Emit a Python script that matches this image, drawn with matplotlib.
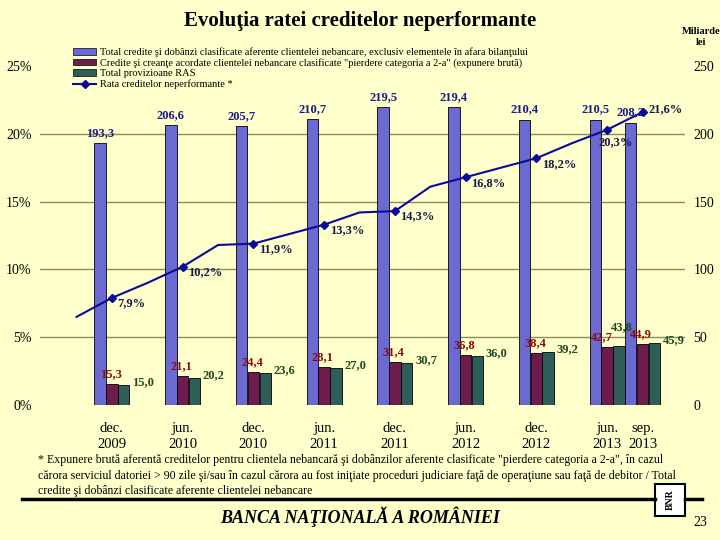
import matplotlib.pyplot as plt
from matplotlib.patches import Patch, Rectangle
from matplotlib.lines import Line2D

plt.rcParams['font.family'] = ['Liberation Serif', 'DejaVu Serif']

# categories: months counted from dec. 2009
cat_labels = ['dec.\n2009', 'jun.\n2010', 'dec.\n2010', 'jun.\n2011', 'dec.\n2011',
              'jun.\n2012', 'dec.\n2012', 'jun.\n2013', 'sep.\n2013']
cat_months = [0, 6, 12, 18, 24, 30, 36, 42, 45]

# bars (miliarde lei)
total_credite = [193.3, 206.6, 205.7, 210.7, 219.5, 219.4, 210.4, 210.5, 208.2]
pierdere = [15.3, 21.1, 24.4, 28.1, 31.4, 36.8, 38.4, 42.7, 44.9]
provizioane = [15.0, 20.2, 23.6, 27.0, 30.7, 36.0, 39.2, 43.8, 45.9]

# line (%), quarterly points
rate_months = [-3, 0, 3, 6, 9, 12, 15, 18, 21, 24, 27, 30, 33, 36, 39, 42, 45]
rate_values = [6.5, 7.9, 9.0, 10.2, 11.8, 11.9, 12.6, 13.3, 14.2, 14.3, 16.1, 16.8,
               17.5, 18.2, 19.3, 20.3, 21.6]

legend_labels = [
    'Total credite şi dobânzi clasificate aferente clientelei nebancare, exclusiv elementele în afara bilanţului',
    'Credite şi creanţe acordate clientelei nebancare clasificate "pierdere categoria a 2-a" (expunere brută)',
    'Total provizioane RAS',
    'Rata creditelor neperformante *',
]

footnote_lines = [
    '* Expunere brută aferentă creditelor pentru clientela nebancară şi dobânzilor aferente clasificate '
    '"pierdere categoria a 2-a", în cazul',
    'cărora serviciul datoriei > 90 zile şi/sau în cazul cărora au fost iniţiate proceduri judiciare '
    'faţă de operaţiune sau faţă de debitor / Total',
    'credite şi dobânzi clasificate aferente clientelei nebancare',
]

bg = '#FFFFCC'
c_blue = '#6A6AD2'
c_mag = '#6E1C50'
c_teal = '#2E5E58'
c_line = '#0A0A9A'

fig = plt.figure(figsize=(7.2, 5.4), dpi=100, facecolor=bg)
ax = fig.add_axes([40 / 720, 1 - 405 / 540, 645 / 720, 339 / 540])
ax.set_facecolor(bg)
ax2 = ax.twinx()
ax2.patch.set_visible(False)

# bars on ax (right scale)
w = 0.97
for y in [50, 100, 150, 200]:
    ax.axhline(y, color='#8C8C5A', lw=1, zorder=0)
ax.bar([m - 1 for m in cat_months], total_credite, w, color=c_blue, edgecolor='black', lw=0.6, zorder=2)
ax.bar(cat_months, pierdere, w, color=c_mag, edgecolor='black', lw=0.6, zorder=2)
ax.bar([m + 1 for m in cat_months], provizioane, w, color=c_teal, edgecolor='black', lw=0.6, zorder=2)

fmt = lambda v: f'{v:.1f}'.replace('.', ',')
lbl = dict(fontsize=9, fontweight='bold')
for i, m in enumerate(cat_months):
    jun13 = cat_labels[i] == 'jun.\n2013'
    ax.annotate(fmt(total_credite[i]), (m - 1, total_credite[i]), xytext=(0, 3),
                textcoords='offset points', ha='center', va='bottom', color='#1A1A8C', **lbl)
    ax.annotate(fmt(pierdere[i]), (m, pierdere[i]), xytext=(-4 if jun13 else -1, 3),
                textcoords='offset points', ha='center', va='bottom', color='#8B0A0A', **lbl)
    if jun13:
        ax.annotate(fmt(provizioane[i]), (m + 1, provizioane[i]), xytext=(2, 9),
                    textcoords='offset points', ha='center', va='bottom', color='#1F4A1F', **lbl)
    else:
        ax.annotate(fmt(provizioane[i]), (m + 1 + w / 2, provizioane[i]), xytext=(2, 2),
                    textcoords='offset points', ha='left', va='center', color='#1F4A1F', **lbl)

ax.set_ylim(0, 250)
ax.set_xlim(-6.1, 48.6)
ax.yaxis.tick_right()
ax.set_yticks([0, 50, 100, 150, 200, 250])
ax.tick_params(axis='y', length=0, labelsize=10, pad=6)
ax.set_xticks(cat_months, cat_labels)
ax.tick_params(axis='x', length=0, labelsize=10.5, pad=12)
for t in ax.get_xticklabels():
    t.set_linespacing(1.3)
ax.set_xticks([m for m, l in zip(cat_months, cat_labels) if l.startswith('jun.')], minor=True)
ax.tick_params(axis='x', which='minor', length=4, color='#888888')

# line on ax2 (left scale)
marked = [i for i, m in enumerate(rate_months) if m in cat_months]
ax2.plot(rate_months, rate_values, color=c_line, lw=1.5, marker='D', ms=4.5,
         markevery=marked, zorder=3)
for i in marked:
    m, v = rate_months[i], rate_values[i]
    off = (4, -4)
    if m == 42:
        off = (-6, -9)
    elif m == 45:
        off = (4, 2)
    ax2.annotate(fmt(v) + '%', (m, v), xytext=off, textcoords='offset points',
                 ha='left', va='center', color='#1A1A4A', **lbl)
ax2.set_ylim(0, 25)
ax2.yaxis.tick_left()
ax2.set_yticks([0, 5, 10, 15, 20, 25], [f'{v}%' for v in [0, 5, 10, 15, 20, 25]])
ax2.tick_params(axis='y', length=0, labelsize=10, pad=6)

for a in (ax, ax2):
    for s in a.spines.values():
        s.set_visible(False)

handles = [Patch(facecolor=c_blue, edgecolor='black', lw=0.5),
           Patch(facecolor=c_mag, edgecolor='black', lw=0.5),
           Patch(facecolor=c_teal, edgecolor='black', lw=0.5),
           Line2D([], [], color=c_line, lw=1.5, marker='D', ms=4)]
fig.legend(handles, legend_labels, loc='upper left', bbox_to_anchor=(68 / 720, 1 - 42 / 540),
           frameon=False, fontsize=7.5, handlelength=2.2, handleheight=0.6,
           labelspacing=0.12, borderpad=0, handletextpad=0.4)

fig.text(0.5, 1 - 21 / 540, 'Evoluţia ratei creditelor neperformante', ha='center', va='center',
         fontsize=15, fontweight='bold')
fig.text(701 / 720, 1 - 37 / 540, 'Miliarde\nlei', ha='center', va='center', fontsize=7.5,
         fontweight='bold', linespacing=1.3)

for k, line in enumerate(footnote_lines):
    fig.text(38 / 720, 1 - (460 + 15.5 * k) / 540, line, ha='left', va='center', fontsize=8.6)

# footer
fig.add_artist(Line2D([22 / 720, 655 / 720], [1 - 499 / 540] * 2, color='black', lw=2.5))
fig.add_artist(Line2D([685 / 720, 702 / 720], [1 - 499 / 540] * 2, color='black', lw=2.5))
fig.add_artist(Rectangle((655 / 720, 1 - 516 / 540), 30 / 720, 32 / 540, facecolor='white',
                         edgecolor='black', lw=1.5))
fig.text(670 / 720, 1 - 500 / 540, 'BNR', ha='center', va='center', fontsize=7, fontweight='bold',
         rotation=90)
fig.text(0.5, 1 - 517 / 540, 'BANCA NAŢIONALĂ A ROMÂNIEI', ha='center', va='center', fontsize=13,
         fontweight='bold', fontstyle='italic')
fig.text(700 / 720, 1 - 522 / 540, '23', ha='center', va='center', fontsize=10)

fig.savefig('out.png', dpi=100, facecolor=bg)
